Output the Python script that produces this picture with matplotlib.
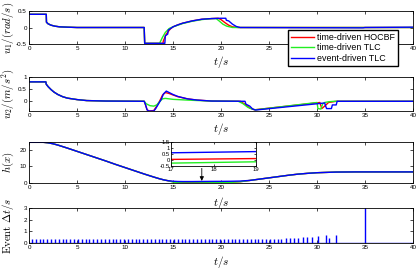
import matplotlib
matplotlib.use('Agg')
import matplotlib.pyplot as plt
import numpy as np

plt.rcParams['mathtext.fontset'] = 'cm'
plt.rcParams['font.family'] = ['Liberation Sans', 'DejaVu Sans']

# ---------------- data ----------------
# u1 (rad/s)
u1_t_start = [0, 1.8, 1.82, 2.0, 2.3, 2.7, 3.2, 4.0, 5.0, 12.0]
u1_v_start = [0.4, 0.4, 0.16, 0.11, 0.07, 0.04, 0.02, 0.01, 0.0, 0.0]
u1_t_red = [12.05, 13.95, 14.0, 14.3, 14.7, 15.0, 15.5, 16.0, 17.0, 18.0, 19.0, 19.7, 20.0, 20.4, 20.8, 21.2, 21.8, 40.0]
u1_red = [-0.48, -0.48, -0.4, -0.2, -0.05, 0.02, 0.08, 0.13, 0.2, 0.25, 0.27, 0.28, 0.24, 0.15, 0.07, 0.02, 0.0, 0.0]
u1_t_green = [12.05, 13.6, 13.9, 14.2, 14.6, 15.0, 15.5, 16.0, 17.0, 18.0, 19.0, 19.5, 19.8, 20.2, 20.6, 21.2, 40.0]
u1_green = [-0.48, -0.48, -0.3, -0.15, -0.03, 0.02, 0.07, 0.12, 0.19, 0.24, 0.27, 0.27, 0.2, 0.1, 0.04, 0.0, 0.0]
u1_t_blue = [12.05, 14.15, 14.2, 14.45, 14.5, 15.0, 15.5, 16.0, 17.0, 18.0, 19.0, 20.0, 20.5, 20.55, 20.8, 21.2, 21.6, 22.0, 34.8, 35.0, 40.0]
u1_blue = [-0.48, -0.48, -0.25, -0.2, -0.08, 0.02, 0.08, 0.13, 0.2, 0.25, 0.27, 0.28, 0.28, 0.22, 0.2, 0.1, 0.03, 0.0, -0.01, 0.0, 0.01]

# u2 (m/s^2)
u2_t_start = [0, 1.75, 1.8, 2.0, 2.3, 2.6, 3.0, 3.5, 4.0, 5.0, 6.0, 8.0, 12.0]
u2_v_start = [0.8, 0.8, 0.7, 0.6, 0.48, 0.38, 0.28, 0.19, 0.13, 0.07, 0.03, 0.01, 0.0]
u2_t_red = [12.1, 12.3, 12.5, 13.0, 13.3, 13.6, 13.9, 14.2, 14.6, 15.0, 15.5, 16.5, 17.5, 19.0, 22.0,
            22.5, 23.0, 23.5, 30.3, 30.5, 30.8, 31.2, 32.0, 40.0]
u2_red = [-0.1, -0.35, -0.4, -0.38, -0.2, 0.0, 0.25, 0.36, 0.32, 0.26, 0.19, 0.1, 0.05, 0.01, 0.0,
          -0.12, -0.28, -0.35, -0.05, -0.3, -0.2, -0.05, 0.0, 0.0]
u2_t_green = [12.2, 12.6, 13.0, 13.3, 13.6, 13.9, 14.2, 15.0, 16.0, 17.0, 19.0, 21.8,
              22.3, 22.8, 23.3, 23.6, 30.0, 30.1, 30.4, 30.6, 30.8, 31.2, 31.8, 40.0]
u2_green = [-0.1, -0.18, -0.2, -0.15, -0.02, 0.1, 0.12, 0.08, 0.06, 0.04, 0.01, 0.0,
            -0.1, -0.25, -0.33, -0.35, -0.05, -0.3, -0.32, -0.1, -0.05, -0.02, 0.0, 0.0]
u2_t_blue = [12.1, 12.3, 12.45, 13.0, 13.2, 13.5, 13.8, 14.0, 14.3, 14.6, 15.0, 15.5, 16.5, 17.5, 19.0, 22.5,
             22.6, 23.0, 23.3, 23.6, 30.8, 30.9, 31.0, 31.5, 31.6, 32.0, 32.1, 40.0]
u2_blue = [-0.1, -0.35, -0.4, -0.4, -0.3, -0.1, 0.1, 0.3, 0.42, 0.36, 0.28, 0.2, 0.1, 0.05, 0.01, 0.0,
           -0.12, -0.2, -0.32, -0.36, -0.07, -0.2, -0.3, -0.3, -0.15, -0.15, 0.0, 0.0]

# h(x)
h_t_start = [0, 1.5, 2.0, 2.5, 3.0, 4.0, 5.0, 6.0, 7.0, 8.0, 9.0, 10.0, 11.0, 12.0, 13.0, 13.5, 14.0, 14.5]
h_v_start = [25.0, 25.0, 24.7, 24.1, 23.3, 21.4, 19.4, 17.4, 15.4, 13.4, 11.3, 9.3, 7.3, 5.3, 3.4, 2.5, 1.7, 1.1]
h_t_end = [23.0, 24.0, 25.0, 26.0, 27.0, 28.0, 29.0, 30.0, 32.0, 34.0, 40.0]
h_v_end = [1.3, 2.1, 2.9, 3.7, 4.5, 5.2, 5.7, 6.1, 6.5, 6.6, 6.6]
h_t_red = [15.0, 15.5, 16.0, 17.0, 19.0, 20.0, 21.0, 22.0]
h_red = [0.5, 0.2, 0.08, 0.05, 0.12, 0.15, 0.25, 0.5]
h_t_green = [15.0, 15.5, 16.0, 17.0, 19.0, 20.0, 21.0, 22.0]
h_green = [0.3, -0.1, -0.25, -0.26, -0.15, -0.08, 0.1, 0.5]
h_t_blue = [15.0, 15.5, 16.0, 17.0, 19.0, 20.0, 21.0, 22.0]
h_blue = [0.8, 0.65, 0.6, 0.6, 0.7, 0.72, 0.78, 0.9]

# events
event_t = [0.3, 0.7, 1.1, 1.5, 1.9, 2.3, 2.7, 3.1, 3.5, 3.9, 4.3, 4.7, 5.1, 5.5, 5.9, 6.3, 6.7,
           7.1, 7.5, 7.9, 8.3, 8.7, 9.1, 9.5, 9.9, 10.3, 10.7, 11.1, 11.5, 11.9, 12.3, 12.7,
           13.1, 13.5, 13.9, 14.3, 14.7, 15.1, 15.5, 15.9, 16.3, 16.7, 17.1, 17.5, 17.9, 18.3,
           18.7, 19.1, 19.5, 19.9, 20.3, 20.7, 21.1, 21.5, 21.9, 22.3, 22.7, 23.1, 23.5, 23.9,
           24.3, 24.7, 25.1, 25.5, 25.9, 26.3, 26.8, 27.2, 27.6, 28.0, 28.5, 29.0, 29.5, 30.1,
           30.9, 31.3, 32.0, 35.0]
event_dt = [0.32] * 66 + [0.4, 0.4, 0.4, 0.4, 0.5, 0.5, 0.5, 0.6, 0.7, 0.4, 0.7, 3.0]

x_ticks = [0, 5, 10, 15, 20, 25, 30, 35, 40]
x_ticklabels_top = ['0', '5', '10', '15', '20', '25', '', '', '40']  # 30, 35 hidden by legend

labels = ['time-driven HOCBF', 'time-driven TLC', 'event-driven TLC']
colors = ['#ff0000', '#22ee22', '#0000ff']

# ---------------- figure ----------------
W, H = 419, 268
fig = plt.figure(figsize=(W / 100, H / 100), dpi=100)


def rect(x0, y0, x1, y1):
    return [x0 / W, 1 - y1 / H, (x1 - x0) / W, (y1 - y0) / H]


def style(ax, xlim=(0, 40)):
    ax.set_xlim(*xlim)
    ax.tick_params(direction='in', top=True, right=True, labelsize=4.5,
                   length=2, width=0.5, pad=1.5, colors='black')
    for s in ax.spines.values():
        s.set_linewidth(0.6)
        s.set_color('black')


ax1 = fig.add_axes(rect(29, 11, 413, 44))
ax2 = fig.add_axes(rect(29, 77, 413, 111))
ax3 = fig.add_axes(rect(29, 142, 413, 183))
ax4 = fig.add_axes(rect(29, 208, 413, 243))

lw = 1.0
# panel 1
ax1.plot(u1_t_start + u1_t_red, u1_v_start + u1_red, color=colors[0], lw=lw, label=labels[0])
ax1.plot(u1_t_start + u1_t_green, u1_v_start + u1_green, color=colors[1], lw=lw, label=labels[1])
ax1.plot(u1_t_start + u1_t_blue, u1_v_start + u1_blue, color=colors[2], lw=lw, label=labels[2])
style(ax1)
ax1.set_ylim(-0.5, 0.5)
ax1.set_yticks([-0.5, 0, 0.5])
ax1.set_yticklabels(['-0.5', '0', '0.5'])
ax1.set_xticks(x_ticks)
ax1.set_xticklabels(x_ticklabels_top)
ax1.set_ylabel(r'$u_1/(rad/s)$', fontsize=7.8)

# panel 2
ax2.plot(u2_t_start + u2_t_red, u2_v_start + u2_red, color=colors[0], lw=lw)
ax2.plot(u2_t_start + u2_t_green, u2_v_start + u2_green, color=colors[1], lw=lw)
ax2.plot(u2_t_start + u2_t_blue, u2_v_start + u2_blue, color=colors[2], lw=lw)
style(ax2)
ax2.set_ylim(-0.4, 1.0)
ax2.set_yticks([0, 0.5, 1])
ax2.set_yticklabels(['0', '0.5', '1'])
ax2.set_xticks(x_ticks)
ax2.set_ylabel(r'$u_2/(m/s^2)$', fontsize=7.8)

# panel 3
hr_t = h_t_start + h_t_red + h_t_end
hg_t = h_t_start + h_t_green + h_t_end
hb_t = h_t_start + h_t_blue + h_t_end
hr = h_v_start + h_red + h_v_end
hg = h_v_start + h_green + h_v_end
hb = h_v_start + h_blue + h_v_end
ax3.plot(hr_t, hr, color=colors[0], lw=lw)
ax3.plot(hg_t, hg, color=colors[1], lw=lw)
ax3.plot(hb_t, hb, color=colors[2], lw=lw)
style(ax3)
ax3.set_ylim(-0.3, 25.2)
ax3.set_yticks([0, 10, 20])
ax3.set_xticks(x_ticks)
ax3.set_ylabel(r'$h(x)$', fontsize=7.8)
ax3.annotate('', xy=(18.0, 1.0), xytext=(18.0, 8.8),
             arrowprops=dict(arrowstyle='-|>', color='black', lw=0.6,
                             mutation_scale=6, shrinkA=0, shrinkB=0))

# inset
axi = fig.add_axes(rect(171, 142, 256, 166))
axi.plot(hr_t, hr, color=colors[0], lw=lw)
axi.plot(hg_t, hg, color=colors[1], lw=lw)
axi.plot(hb_t, hb, color=colors[2], lw=lw)
axi.set_xlim(17, 19)
axi.set_ylim(-0.5, 1.5)
axi.set_xticks([17, 18, 19])
axi.set_yticks([-0.5, 0, 0.5, 1, 1.5])
axi.set_yticklabels(['-0.5', '0', '0.5', '1', '1.5'])
axi.tick_params(direction='in', top=True, right=True, labelsize=4.2,
                length=1.5, width=0.5, pad=1)
for s in axi.spines.values():
    s.set_linewidth(0.6)
axi.set_facecolor('white')

# panel 4
ax4.vlines(event_t, 0, event_dt, color=colors[2], lw=1.0)
ax4.axhline(0, color=colors[2], lw=1.0)
style(ax4)
ax4.set_ylim(0, 3)
ax4.set_yticks([0, 1, 2, 3])
ax4.set_xticks(x_ticks)
ax4.set_ylabel(r'$\mathrm{Event}\ \Delta t/s$', fontsize=7.8)

for ax in (ax1, ax2, ax3, ax4):
    ax.set_xlabel(r'$t/s$', fontsize=8)
    ax.xaxis.set_label_coords(0.5, -0.3)
    ax.yaxis.set_label_coords(-0.033, 0.5)

h, l = ax1.get_legend_handles_labels()
fig.legend(h, l, loc='upper left', bbox_to_anchor=(288 / W, 1 - 30 / H),
           fontsize=6.4, frameon=True, fancybox=False, edgecolor='black',
           framealpha=1, handlelength=2.6, handletextpad=0.4, labelspacing=0.2,
           borderpad=0.3, borderaxespad=0)

fig.savefig('out.png', dpi=100)
